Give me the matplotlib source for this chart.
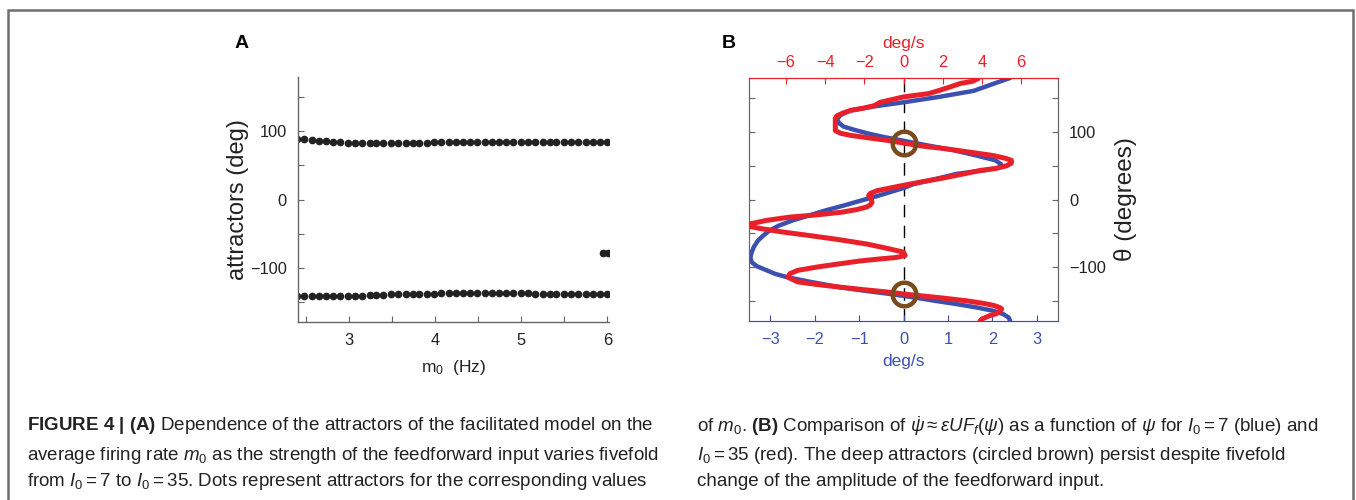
import matplotlib
matplotlib.use('Agg')
import matplotlib.pyplot as plt
from matplotlib.patches import Rectangle

plt.rcParams['font.family'] = ['Liberation Sans', 'DejaVu Sans']
plt.rcParams['mathtext.fontset'] = 'custom'
plt.rcParams['mathtext.rm'] = 'Liberation Sans'
plt.rcParams['mathtext.it'] = 'Liberation Sans:italic'
plt.rcParams['mathtext.bf'] = 'Liberation Sans:bold'

# Panel A: attractor positions vs average firing rate
m0 = [2.40, 2.48, 2.57, 2.65, 2.73, 2.82, 2.90, 2.99, 3.07, 3.15, 3.24,
      3.32, 3.40, 3.49, 3.57, 3.66, 3.74, 3.82, 3.91, 3.99, 4.07, 4.16,
      4.24, 4.33, 4.41, 4.49, 4.58, 4.66, 4.74, 4.83, 4.91, 5.00, 5.08,
      5.16, 5.25, 5.33, 5.41, 5.50, 5.58, 5.66, 5.75, 5.83, 5.92, 6.00]
upper_attr = [88.7, 88.2, 87.5, 86.5, 85.5, 84.5, 84.0, 83.5, 83.2, 83.0, 83.0,
              83.0, 83.0, 83.0, 83.0, 83.2, 83.3, 83.5, 83.6, 83.8, 84.0, 84.0,
              84.2, 84.3, 84.5, 84.5, 84.6, 84.7, 84.7, 84.8, 84.8, 84.8, 84.8,
              84.8, 84.8, 84.8, 84.8, 84.8, 84.8, 84.8, 84.8, 84.8, 84.8, 84.8]
lower_attr = [-141.5, -142.0, -142.5, -142.5, -142.5, -142.5, -142.3, -142.0, -141.7, -141.3, -141.0,
              -140.5, -140.0, -139.5, -139.2, -139.0, -138.7, -138.5, -138.3, -138.2, -138.0, -138.0,
              -137.8, -137.8, -137.8, -137.8, -137.8, -137.8, -137.8, -137.9, -138.0, -138.0, -138.1,
              -138.2, -138.3, -138.4, -138.5, -138.6, -138.7, -138.8, -138.9, -139.0, -139.2, -139.5]
extra_m0 = [5.95, 6.01]
extra_attr = [-78.5, -78.5]

# Panel B: velocity vs angle, I0 = 7 (blue) and I0 = 35 (red)
theta_blue = [180, 172, 161, 152, 144, 138, 132, 125, 119, 113, 108, 103, 97, 92, 87,
              80, 73, 65, 58, 52, 47, 43, 38, 30, 23, 17, 13, 5, -2, -9, -16, -24, -31,
              -39, -46, -54, -61, -70, -78, -86, -93, -99, -105, -110, -115, -122,
              -130, -135, -140, -145, -150, -155, -160, -165, -170, -175, -180]
vel_blue = [2.40, 2.05, 1.58, 0.80, 0.0, -0.65, -1.20, -1.42, -1.50, -1.45, -1.35, -1.10, -0.75, -0.40, 0.0,
            0.55, 1.13, 1.65, 2.07, 2.20, 2.15, 1.80, 1.20, 0.70, 0.23, 0.0, -0.20, -0.60, -0.98, -1.35, -1.75, -2.15, -2.50,
            -2.82, -3.02, -3.17, -3.28, -3.37, -3.42, -3.45, -3.42, -3.30, -3.08, -2.90, -2.63, -2.10,
            -1.43, -0.90, -0.30, 0.23, 0.70, 1.20, 1.65, 2.03, 2.25, 2.37, 2.40]

theta_red = [179, 175, 172, 167, 162, 157, 152, 148, 144, 139, 135, 132, 128, 124, 120, 115,
             108, 102, 98, 95, 91, 87, 83, 79, 75, 70, 65, 61, 58, 54, 50, 46, 43, 37,
             31, 26, 21, 17, 13, 9, 6, 2, -4, -8, -11, -15, -19, -23, -26, -31, -36,
             -40, -43, -48, -53, -59, -66, -72, -78, -83, -86, -88, -91, -95, -100,
             -105, -110, -115, -118, -122, -126, -130, -134, -137, -140, -142, -146,
             -150, -154, -157, -160, -162, -165, -169, -172, -174, -177, -180]
vel_red = [3.80, 3.50, 2.90, 2.40, 1.87, 1.30, 0.00, -0.60, -1.19, -1.50, -2.10, -2.70, -3.10, -3.40, -3.48, -3.48,
           -3.48, -3.48, -3.20, -2.70, -1.70, -0.68, 0.10, 1.00, 2.20, 3.40, 4.60, 5.20, 5.50, 5.50, 5.26, 4.70, 3.90, 2.90,
           1.87, 0.90, 0.00, -0.70, -1.36, -1.70, -1.78, -1.65, -1.61, -1.70, -1.87, -2.40, -3.20, -4.50, -5.77, -7.00, -7.80,
           -7.85, -7.30, -6.20, -4.90, -3.40, -1.87, -0.90, 0.00, 0.08, -0.40, -1.19, -2.20, -3.20, -4.40,
           -5.40, -5.80, -5.90, -5.70, -5.40, -4.40, -3.20, -1.90, -0.85, 0.00, 0.68, 2.00,
           3.20, 4.10, 4.60, 4.90, 5.00, 4.95, 4.75, 4.40, 4.24, 4.00, 3.90]

circle_theta = [83, -140]
circle_vel = [0, 0]

BLUE = '#3c50b0'
RED = '#e8202a'
BROWN = '#7a4b1c'
SPINE = '#666666'
TXT = '#222222'

fig = plt.figure(figsize=(13.56, 5.0), dpi=100)

# outer frame of the figure box
fig.patches.append(Rectangle((8 / 1356, -0.05), 1345 / 1356, 1.05 - 10 / 500,
                             transform=fig.transFigure, fill=False,
                             edgecolor='#6e6e6e', linewidth=1.8))

# ---- panel A ----
ax_a = fig.add_axes([0.2198, 0.356, 0.2293, 0.490])
ax_a.plot(m0, upper_attr, 'o', color=TXT, markersize=4.5)
ax_a.plot(m0, lower_attr, 'o', color=TXT, markersize=4.5)
ax_a.plot(extra_m0, extra_attr, 'o', color=TXT, markersize=4.5)
ax_a.set_xlim(2.41, 6.02)
ax_a.set_ylim(-180, 180)
ax_a.set_xticks([2.5, 3, 3.5, 4, 4.5, 5, 5.5, 6])
ax_a.set_xticklabels(['', '3', '', '4', '', '5', '', '6'])
ax_a.set_yticks([-150, -100, -50, 0, 50, 100, 150])
ax_a.set_yticklabels(['', '\u2212100', '', '0', '', '100', ''])
for s in ['top', 'right']:
    ax_a.spines[s].set_visible(False)
for s in ['left', 'bottom']:
    ax_a.spines[s].set_color(SPINE)
    ax_a.spines[s].set_linewidth(1.0)
ax_a.tick_params(direction='in', length=4, color=SPINE, labelsize=11.8,
                 labelcolor=TXT, pad=8)
ax_a.set_ylabel('attractors (deg)', fontsize=17, color=TXT, labelpad=1)
ax_a.set_xlabel('m$_0$  (Hz)', fontsize=12.5, color=TXT, labelpad=7)
fig.text(242 / 1356, 1 - 43 / 500, 'A', fontsize=14, fontweight='bold',
         ha='center', va='center')

# ---- panel B ----
ax_b = fig.add_axes([0.5524, 0.358, 0.2279, 0.486])
ax_b.axvline(0, color='black', linestyle=(0, (9, 6)), linewidth=1.0, zorder=1)
ax_b.plot(vel_blue, theta_blue, color=BLUE, linewidth=3.2,
          solid_joinstyle='round', solid_capstyle='round', zorder=2)
ax_b.set_xlim(-3.48, 3.48)
ax_b.set_ylim(-180, 180)
ax_b.set_xticks([-3, -2, -1, 0, 1, 2, 3])
ax_b.set_xticklabels(['\u22123', '\u22122', '\u22121', '0', '1', '2', '3'])
ax_b.set_yticks([-150, -100, -50, 0, 50, 100, 150])
ax_b.set_yticklabels(['', '\u2212100', '', '0', '', '100', ''])
ax_b.yaxis.tick_right()
ax_b.yaxis.set_label_position('right')
ax_b.tick_params(axis='y', which='both', left=True, right=True,
                 direction='in', length=4, color=SPINE, labelsize=11.8,
                 labelcolor=TXT, pad=8)
ax_b.tick_params(axis='x', direction='in', length=4, color=BLUE,
                 labelsize=11.8, labelcolor=BLUE, pad=8)
ax_b.set_xlabel('deg/s', fontsize=12.5, color=BLUE, labelpad=5)
ax_b.set_ylabel('\u03b8 (degrees)', fontsize=17.5, color=TXT, labelpad=6)
ax_b.spines['left'].set_color(SPINE)
ax_b.spines['right'].set_color(SPINE)
ax_b.spines['bottom'].set_color(BLUE)

ax_r = ax_b.twiny()
ax_r.plot(vel_red, theta_red, color=RED, linewidth=3.6,
          solid_joinstyle='round', solid_capstyle='round', zorder=3)
ax_r.plot(circle_vel, circle_theta, 'o', markersize=17, markerfacecolor='none',
          markeredgecolor=BROWN, markeredgewidth=3.2, zorder=4)
ax_r.set_xlim(-7.88, 7.88)
ax_r.set_ylim(-180, 180)
ax_r.set_xticks([-6, -4, -2, 0, 2, 4, 6])
ax_r.set_xticklabels(['\u22126', '\u22124', '\u22122', '0', '2', '4', '6'])
ax_r.tick_params(axis='x', direction='in', length=4, color=RED,
                 labelsize=11.8, labelcolor=RED, pad=6)
ax_r.set_xlabel('deg/s', fontsize=12.5, color=RED, labelpad=5)
ax_r.spines['top'].set_color(RED)
ax_r.spines['left'].set_color(SPINE)
ax_r.spines['right'].set_color(SPINE)
ax_r.spines['bottom'].set_color(BLUE)
fig.text(729 / 1356, 1 - 43 / 500, 'B', fontsize=14, fontweight='bold',
         ha='center', va='center')

# ---- caption ----
cap_left = [
    r'$\mathbf{FIGURE\ 4\ |\ (A)}$ Dependence of the attractors of the facilitated model on the',
    r'average firing rate $m_0$ as the strength of the feedforward input varies fivefold',
    r'from $I_0 = 7$ to $I_0 = 35$. Dots represent attractors for the corresponding values',
]
cap_right = [
    r'of $m_0$. $\mathbf{(B)}$ Comparison of $\dot{\psi} \approx \varepsilon UF_f(\psi)$ as a function of $\psi$ for $I_0 = 7$ (blue) and',
    r'$I_0 = 35$ (red). The deep attractors (circled brown) persist despite fivefold',
    r'change of the amplitude of the feedforward input.',
]
line_y = [426, 455, 482]
for txt, y in zip(cap_left, line_y):
    fig.text(27 / 1356, 1 - y / 500, txt, fontsize=13.5, color=TXT, va='center')
for txt, y in zip(cap_right, line_y):
    fig.text(697 / 1356, 1 - y / 500, txt, fontsize=13.5, color=TXT, va='center')

fig.savefig('out.png', dpi=100)
